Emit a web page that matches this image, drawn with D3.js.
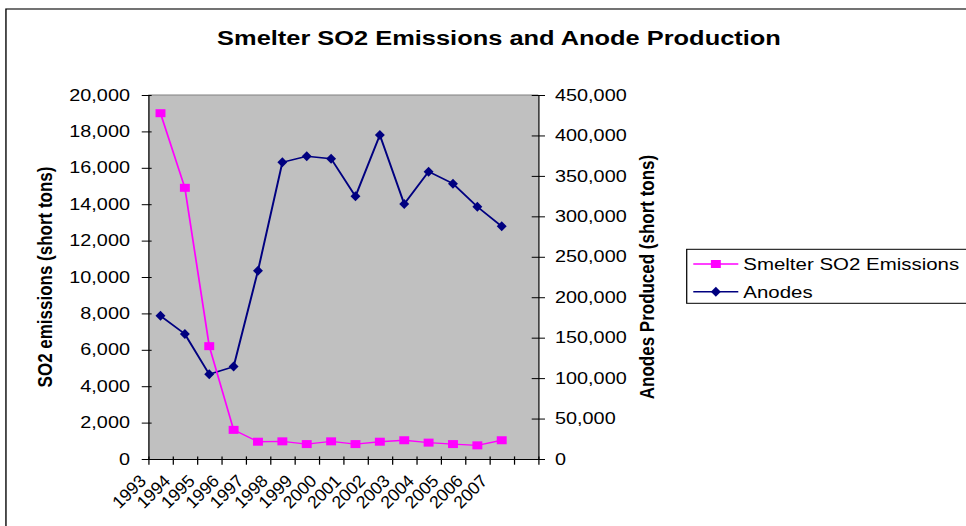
<!DOCTYPE html>
<html>
<head>
<meta charset="utf-8">
<script src="https://cdn.jsdelivr.net/npm/d3@7"></script>
<style>
    html, body { margin: 0; padding: 0; background: #fff; overflow: hidden; }
    svg { display: block; }
    text { font-family: "Liberation Sans", Arial, sans-serif; fill: #000; }
</style>
</head>
<body>
<div id="chart"></div>
<script>
'use strict';

// values
var years = ['1993', '1994', '1995', '1996', '1997', '1998', '1999', '2000', '2001', '2002', '2003', '2004', '2005', '2006', '2007'];
var so2Emissions = [19000, 14900, 6200, 1600, 950, 970, 820, 970, 820, 950, 1030, 900, 820, 750, 1030];
var anodesProduced = [177000, 154500, 104700, 114200, 232800, 366800, 374200, 371300, 324700, 400500, 315300, 355200, 340400, 311900, 287600];
var so2Ticks = [0, 2000, 4000, 6000, 8000, 10000, 12000, 14000, 16000, 18000, 20000];
var anodeTicks = [0, 50000, 100000, 150000, 200000, 250000, 300000, 350000, 400000, 450000];
var seriesNames = ['Smelter SO2 Emissions', 'Anodes'];

var config = {
    stretch: 1.24, // the original picture is pulled wider than it is tall
    pixelWidth: 966,
    pixelHeight: 526,
    plot: { left: 119.6, right: 434.1, top: 95, bottom: 459 },
    pink: '#ff00ff',
    navy: '#000080'
};
config.width = config.pixelWidth / config.stretch;

var svg = d3.select('#chart').append('svg')
    .attr('width', config.pixelWidth)
    .attr('height', config.pixelHeight)
    .attr('viewBox', '0 0 ' + config.width + ' ' + config.pixelHeight)
    .attr('preserveAspectRatio', 'none');

// outer chart frame, runs off the right and bottom edge
svg.append('rect')
    .attr('x', 4.8).attr('y', 9)
    .attr('width', config.width + 20).attr('height', config.pixelHeight + 20)
    .attr('fill', '#fff').attr('stroke', '#000').attr('stroke-width', 1.1);

svg.append('text')
    .attr('x', 402.4).attr('y', 45.3)
    .attr('text-anchor', 'middle')
    .style('font-size', '20.5px').style('font-weight', 'bold')
    .text('Smelter SO2 Emissions and Anode Production');

var p = config.plot;

// scales
var xBand = d3.scaleBand().domain(years.concat([''])).range([p.left, p.right]); // one empty slot after 2007
var xIndex = d3.scaleLinear().domain([0, years.length + 1]).range([p.left, p.right]);
var yLeft = d3.scaleLinear().domain([0, 20000]).range([p.bottom, p.top]);
var yRight = d3.scaleLinear().domain([0, 450000]).range([p.bottom, p.top]);

var xCenter = function xCenter(i) {
    return xBand(years[i]) + xBand.bandwidth() / 2;
};

// plot area
svg.append('rect')
    .attr('x', p.left).attr('y', p.top)
    .attr('width', p.right - p.left).attr('height', p.bottom - p.top)
    .attr('fill', '#c0c0c0');
svg.append('line')
    .attr('x1', p.left).attr('x2', p.right)
    .attr('y1', p.top).attr('y2', p.top)
    .attr('stroke', '#808080').attr('stroke-width', 1);

// axes
var styleAxis = function styleAxis(g) {
    g.attr('font-family', null).attr('font-size', null);
    g.selectAll('text').style('font-size', '16px');
    g.selectAll('line, path').attr('stroke', '#000').attr('stroke-width', 1);
};

var leftAxis = svg.append('g')
    .attr('transform', 'translate(' + p.left + ',0)')
    .call(d3.axisLeft(yLeft).tickValues(so2Ticks).tickFormat(d3.format(','))
        .tickSizeInner(5.3).tickSizeOuter(0).tickPadding(9.5));
leftAxis.selectAll('.tick line').attr('x1', 2.7);
styleAxis(leftAxis);

var rightAxis = svg.append('g')
    .attr('transform', 'translate(' + p.right + ',0)')
    .call(d3.axisRight(yRight).tickValues(anodeTicks).tickFormat(d3.format(','))
        .tickSizeInner(5.4).tickSizeOuter(0).tickPadding(8.1));
rightAxis.selectAll('.tick line').attr('x1', -5.3);
styleAxis(rightAxis);

var bottomAxis = svg.append('g')
    .attr('transform', 'translate(0,' + p.bottom + ')')
    .call(d3.axisBottom(xIndex).ticks(years.length + 1).tickFormat('')
        .tickSizeInner(5.7).tickSizeOuter(0));
bottomAxis.selectAll('.tick line').attr('y1', -2.6);
styleAxis(bottomAxis);

// year labels, drawn unstretched at 45 degrees
svg.append('g').selectAll('text')
    .data(years)
    .enter().append('text')
    .attr('transform', function (d) {
        return 'translate(' + (xBand(d) - 1) + ',' + (p.bottom + 23) + ') scale(' + (1 / config.stretch) + ',1) rotate(-45)';
    })
    .attr('text-anchor', 'end')
    .style('font-size', '17.5px')
    .text(function (d) { return d; });

// axis titles
svg.append('text')
    .attr('transform', 'translate(36.3,' + ((p.top + p.bottom) / 2) + ') rotate(-90)')
    .attr('text-anchor', 'middle').attr('dy', '0.35em')
    .style('font-size', '17px').style('font-weight', 'bold')
    .text('SO2 emissions (short tons)');

svg.append('text')
    .attr('transform', 'translate(521.8,' + ((p.top + p.bottom) / 2) + ') rotate(-90)')
    .attr('text-anchor', 'middle').attr('dy', '0.35em')
    .style('font-size', '17px').style('font-weight', 'bold')
    .text('Anodes Produced (short tons)');

// series
var so2Line = d3.line()
    .x(function (d, i) { return xCenter(i); })
    .y(function (d) { return yLeft(d); });

var anodeLine = d3.line()
    .x(function (d, i) { return xCenter(i); })
    .y(function (d) { return yRight(d); });

var diamond = 'M0,-5L4,0L0,5L-4,0Z';

svg.append('path')
    .datum(anodesProduced)
    .attr('d', anodeLine)
    .attr('fill', 'none').attr('stroke', config.navy).attr('stroke-width', 1.6);

svg.append('g').selectAll('path')
    .data(anodesProduced)
    .enter().append('path')
    .attr('d', diamond)
    .attr('transform', function (d, i) { return 'translate(' + xCenter(i) + ',' + yRight(d) + ')'; })
    .attr('fill', config.navy);

svg.append('path')
    .datum(so2Emissions)
    .attr('d', so2Line)
    .attr('fill', 'none').attr('stroke', config.pink).attr('stroke-width', 1.4);

svg.append('g').selectAll('rect')
    .data(so2Emissions)
    .enter().append('rect')
    .attr('x', function (d, i) { return xCenter(i) - 4; })
    .attr('y', function (d) { return yLeft(d) - 4; })
    .attr('width', 8).attr('height', 8)
    .attr('fill', config.pink);

// legend
var legend = svg.append('g');
legend.append('rect')
    .attr('x', 553.8).attr('y', 249.3)
    .attr('width', 240).attr('height', 54)
    .attr('fill', '#fff').attr('stroke', '#000').attr('stroke-width', 1);

var legendRows = [264, 291.7];
var legendColors = [config.pink, config.navy];

legendRows.forEach(function (y, i) {
    legend.append('line')
        .attr('x1', 559.1).attr('x2', 595.4)
        .attr('y1', y).attr('y2', y)
        .attr('stroke', legendColors[i]).attr('stroke-width', 1.4);
    if (i === 0) {
        legend.append('rect')
            .attr('x', 577.3 - 4).attr('y', y - 4)
            .attr('width', 8).attr('height', 8)
            .attr('fill', legendColors[i]);
    } else {
        legend.append('path')
            .attr('d', diamond)
            .attr('transform', 'translate(577.3,' + y + ')')
            .attr('fill', legendColors[i]);
    }
    legend.append('text')
        .attr('x', 599.4).attr('y', y + 6)
        .style('font-size', '16.5px')
        .text(seriesNames[i]);
});
</script>
</body>
</html>
